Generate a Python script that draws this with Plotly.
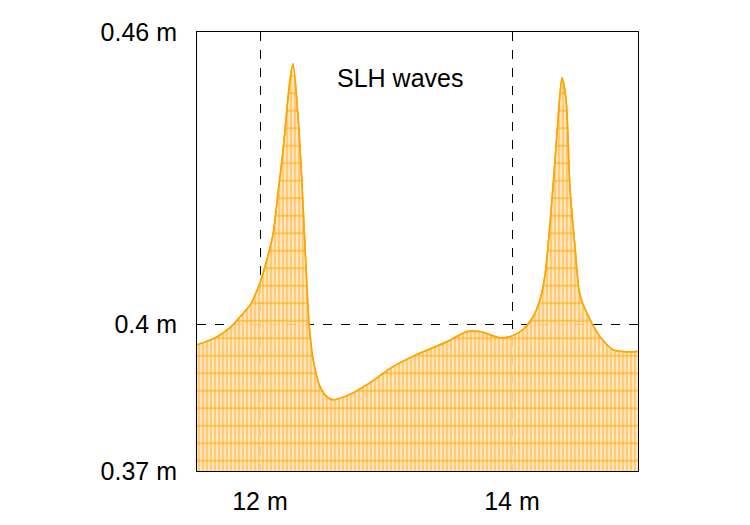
import plotly.graph_objects as go

x_vals = [11.5, 11.643, 11.762, 11.841, 11.92, 12.0, 12.048, 12.103, 12.143, 12.183,
          12.238, 12.262, 12.302, 12.333, 12.373, 12.39, 12.421, 12.476, 12.52, 12.579,
          12.714, 12.849, 13.056, 13.246, 13.484, 13.643, 13.746, 13.905, 14.0,
          14.087, 14.167, 14.222, 14.262, 14.325, 14.365, 14.397, 14.429, 14.46,
          14.5, 14.54, 14.62, 14.70, 14.80, 14.88, 15.0]
y_vals = [0.3959, 0.3973, 0.3994, 0.4016, 0.4040, 0.4086, 0.4127, 0.4185, 0.4270, 0.4358,
          0.4502, 0.4535, 0.4426, 0.4291, 0.4075, 0.4000, 0.3930, 0.3873, 0.3855, 0.3846,
          0.3857, 0.3877, 0.3914, 0.3939, 0.3965, 0.3986, 0.3986, 0.3973, 0.3977,
          0.3990, 0.4016, 0.4051, 0.4102, 0.4281, 0.4420, 0.4506, 0.4461, 0.4281,
          0.4160, 0.4060, 0.4010, 0.3975, 0.3949, 0.3945, 0.3945]

x_ticks = [12, 14]
x_tick_text = ["12 m", "14 m"]
y_ticks = [0.37, 0.4, 0.46]
y_tick_text = ["0.37 m", "0.4 m", "0.46 m"]

orange = "#FFA500"
font = dict(family="Liberation Sans, Arial, sans-serif", size=25, color="black")

fig = go.Figure()
fig.add_trace(go.Scatter(
    x=x_vals, y=y_vals, mode="lines", fill="tozeroy",
    line=dict(color=orange, width=1.5, shape="spline", smoothing=0.8),
    fillcolor="rgba(255,225,180,0.92)",
    fillpattern=dict(shape="|", size=4, solidity=0.4, fgcolor=orange,
                     bgcolor="rgba(255,228,185,0.9)"),
    showlegend=False, hoverinfo="skip",
))
fig.add_trace(go.Scatter(
    x=x_vals, y=y_vals, mode="lines", fill="tozeroy",
    line=dict(color=orange, width=1.5, shape="spline", smoothing=0.8),
    fillcolor="rgba(0,0,0,0)",
    fillpattern=dict(shape="-", size=17.5, solidity=0.12, fgcolor=orange,
                     bgcolor="rgba(0,0,0,0)"),
    showlegend=False, hoverinfo="skip",
))

fig.add_annotation(x=13.11, y=0.4505, text="SLH waves", showarrow=False,
                   font=dict(family="Liberation Sans, Arial, sans-serif", size=25, color="black"))

fig.update_layout(
    width=750, height=525,
    margin=dict(l=197, r=112, t=32, b=54),
    paper_bgcolor="white", plot_bgcolor="white",
    font=font,
    xaxis=dict(range=[11.5, 15.0], tickvals=x_ticks, ticktext=x_tick_text,
               showgrid=True, gridcolor="black", griddash="dash", gridwidth=1,
               showline=True, linecolor="black", linewidth=1, mirror=True,
               zeroline=False, ticks="", ticklabelstandoff=8, automargin=False),
    yaxis=dict(range=[0.37, 0.46], tickvals=y_ticks, ticktext=y_tick_text,
               showgrid=True, gridcolor="black", griddash="dash", gridwidth=1,
               showline=True, linecolor="black", linewidth=1, mirror=True,
               zeroline=False, ticks="", ticklabelstandoff=14, automargin=False),
)

fig.write_html("out.html")
